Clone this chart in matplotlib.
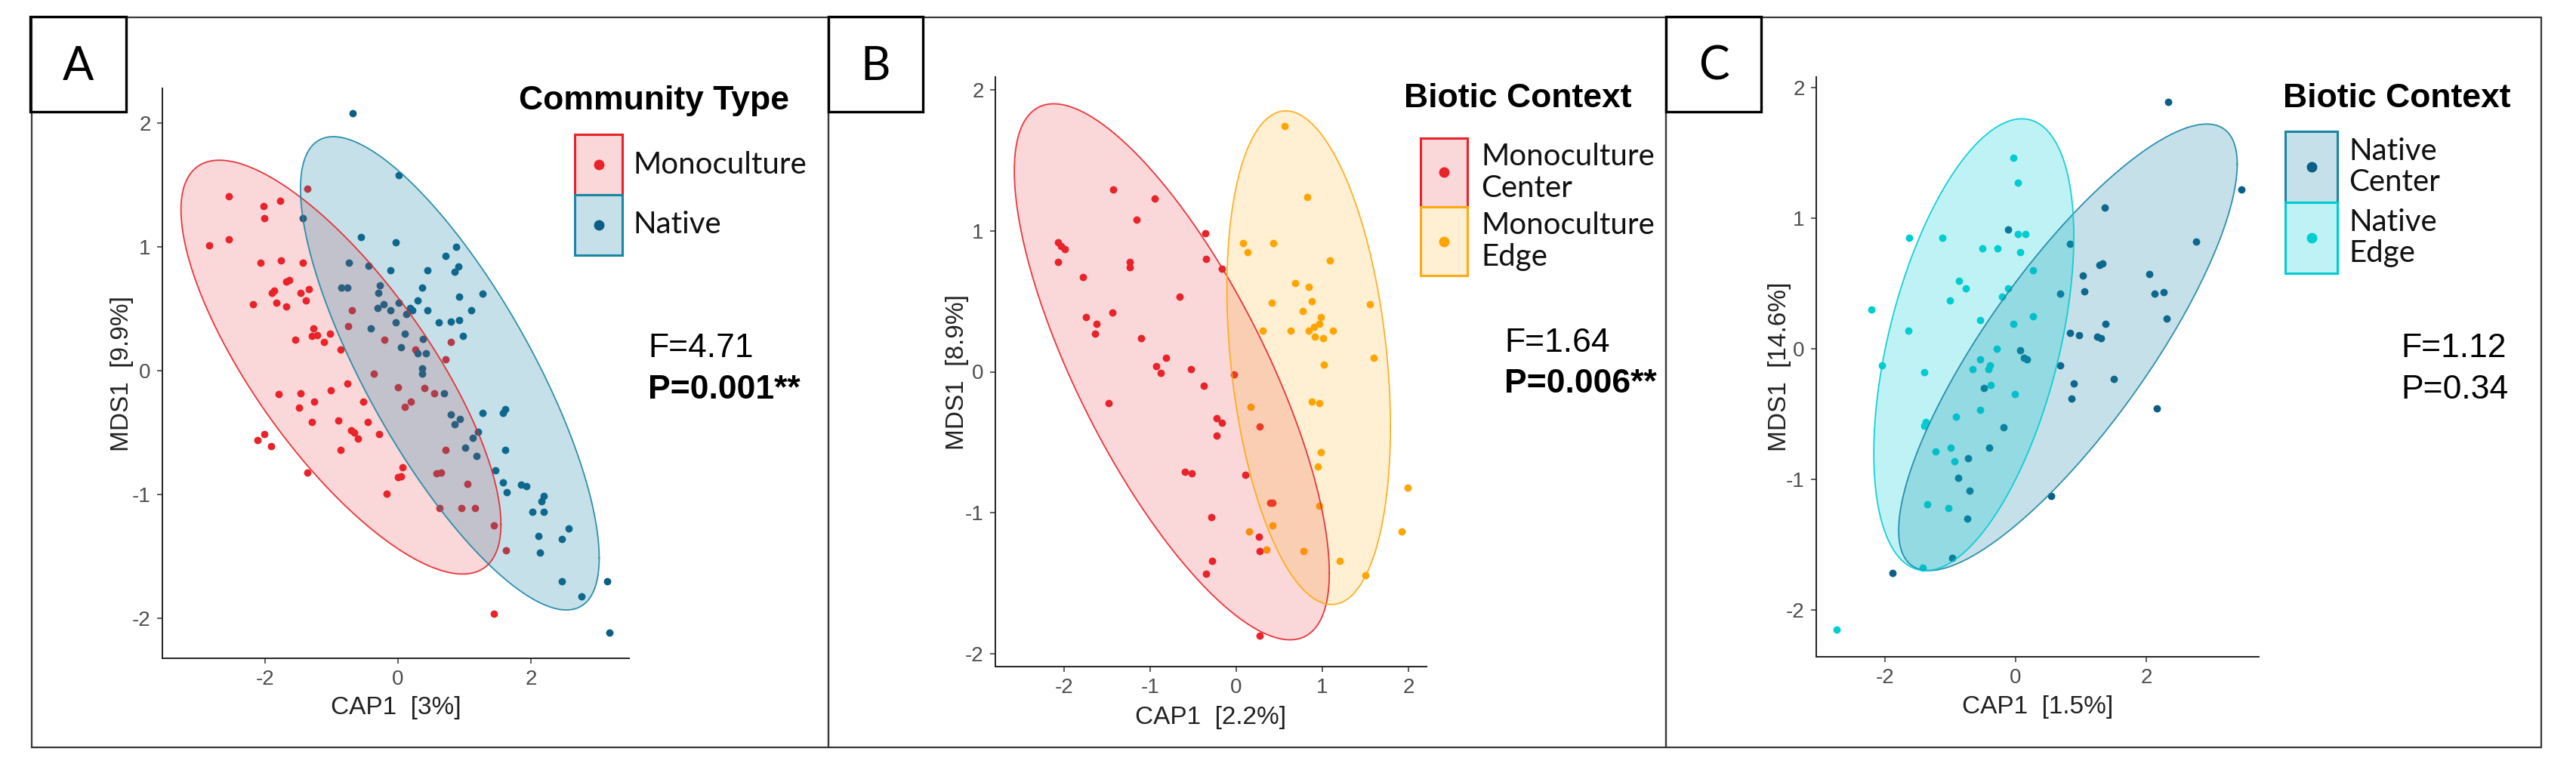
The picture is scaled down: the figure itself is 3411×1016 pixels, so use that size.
import numpy as np
import matplotlib
matplotlib.use('Agg')
import matplotlib.pyplot as plt
from matplotlib.patches import Rectangle
from matplotlib.lines import Line2D

plt.rcParams['font.family'] = ['Liberation Sans Narrow', 'Liberation Sans', 'DejaVu Sans']
plt.rcParams['axes.unicode_minus'] = False

# panel A: community type
a_groups = ['Monoculture', 'Native']
a_mono_x = [-1.37, -2.55, -2.03, -1.78, -2.01, -2.85, -2.55, -2.07, -1.76, -1.43, -1.68, -1.64, -1.87, -1.90,
            -1.47, -1.34, -1.83, -1.68, -1.39, -2.19, -0.69, -0.75, -1.27, -1.30, -1.22, -1.03, -1.12, -0.87,
            -1.55, -0.21, 0.26, 0.80, 0.72, -0.37, -0.76, -1.01, -1.47, -1.80, -1.26, -1.49, -0.52, 0.0, 0.40,
            0.19, 0.10, 0.54, -1.30, -0.90, -0.46, -0.71, -0.66, -0.60, -0.29, -2.12, -2.01, -1.91, -0.86, 0.72,
            -1.37, 0.07, 0.0, 0.04, 0.58, 0.65, 1.04, -0.17, 0.62, 0.95, 1.16, 1.44, 1.63, 1.44]
a_mono_y = [1.47, 1.41, 1.33, 1.37, 1.23, 1.01, 1.06, 0.87, 0.89, 0.87, 0.72, 0.73, 0.65, 0.63, 0.63, 0.66,
            0.55, 0.52, 0.57, 0.54, 0.49, 0.36, 0.34, 0.28, 0.29, 0.30, 0.23, 0.17, 0.25, 0.25, 0.17, 0.23, 0.09,
            -0.02, -0.10, -0.16, -0.18, -0.19, -0.25, -0.30, -0.25, -0.13, -0.14, -0.25, -0.29, -0.18, -0.41,
            -0.40, -0.41, -0.48, -0.50, -0.55, -0.51, -0.56, -0.51, -0.61, -0.64, -0.64, -0.82, -0.78, -0.86,
            -0.85, -0.83, -0.82, -0.91, -0.99, -1.11, -1.11, -1.11, -1.25, -1.45, -1.96]
a_nat_x = [-0.68, 0.01, -1.43, -0.56, -0.04, 0.87, 0.72, -0.74, -0.44, -0.12, 0.44, 0.91, 0.85, -0.85, -0.76,
           -0.27, -0.30, 0.36, 1.27, 0.92, 0.01, 0.29, 0.18, -0.31, -0.22, -0.12, 0.12, 0.22, 0.44, 1.10, 0.61,
           0.80, 0.92, -0.41, -0.04, 0.10, 0.98, 0.38, 0.04, 0.29, 0.42, 0.36, 0.36, 0.69, 0.79, 0.85, 0.93, 1.27,
           1.58, 1.62, 1.20, 1.13, 1.01, 1.18, 1.62, 1.47, 1.58, 1.64, 1.85, 1.93, 2.20, 2.16, 2.02, 2.20, 2.12,
           2.57, 2.47, 2.14, 2.47, 2.76, 3.15, 3.18]
a_nat_y = [2.08, 1.58, 1.23, 1.08, 1.04, 1.00, 0.93, 0.87, 0.85, 0.81, 0.81, 0.84, 0.80, 0.67, 0.67, 0.69,
           0.63, 0.67, 0.62, 0.60, 0.55, 0.57, 0.51, 0.51, 0.54, 0.49, 0.46, 0.49, 0.49, 0.49, 0.39, 0.40, 0.41,
           0.34, 0.39, 0.30, 0.28, 0.26, 0.19, 0.14, 0.14, 0.02, -0.02, -0.18, -0.35, -0.43, -0.39, -0.34, -0.34,
           -0.31, -0.49, -0.54, -0.62, -0.69, -0.64, -0.80, -0.90, -0.98, -0.92, -0.93, -1.01, -1.05, -1.14,
           -1.14, -1.33, -1.27, -1.36, -1.47, -1.70, -1.82, -1.70, -2.11]
# ellipse: centre x, centre y, half width, half height, correlation
a_ellipses = [(-0.86, 0.03, 2.41, 1.67, -0.76), (0.78, -0.02, 2.25, 1.91, -0.78)]

# panel B: monoculture center / edge
b_groups = ['Monoculture\nCenter', 'Monoculture\nEdge']
b_cen_x = [-1.43, -0.95, -1.16, -0.36, -2.07, -2.04, -1.99, -2.07, -1.24, -1.24, -0.35, -0.17, -1.78, -0.66,
           -1.75, -1.44, -1.62, -1.64, -1.11, -0.82, -0.93, -0.88, -0.53, -0.38, -0.03, -1.48, -0.23, -0.17,
           -0.23, 0.27, -0.60, -0.52, 0.10, 0.39, 0.42, -0.29, 0.26, 0.27, -0.28, -0.35, 0.27]
b_cen_y = [1.29, 1.23, 1.08, 0.98, 0.92, 0.89, 0.87, 0.78, 0.78, 0.74, 0.80, 0.73, 0.67, 0.53, 0.39, 0.42,
           0.34, 0.27, 0.24, 0.10, 0.04, -0.01, 0.02, -0.10, -0.02, -0.22, -0.33, -0.36, -0.45, -0.39, -0.71,
           -0.72, -0.73, -0.93, -0.93, -1.03, -1.17, -1.27, -1.34, -1.43, -1.87]
b_edge_x = [0.56, 0.82, 0.08, 0.13, 0.43, 1.09, 0.68, 0.84, 0.88, 0.41, 0.77, 1.55, 0.98, 0.96, 0.90, 0.84,
            0.31, 0.63, 1.12, 0.91, 1.01, 1.02, 1.60, 0.88, 0.96, 0.17, 0.98, 0.95, 1.99, 0.96, 0.42, 0.15, 1.92,
            0.35, 0.78, 1.20, 1.50]
b_edge_y = [1.74, 1.24, 0.91, 0.85, 0.91, 0.79, 0.63, 0.60, 0.50, 0.49, 0.43, 0.48, 0.39, 0.34, 0.32, 0.29,
            0.29, 0.29, 0.29, 0.25, 0.24, 0.05, 0.10, -0.21, -0.22, -0.25, -0.57, -0.67, -0.82, -0.95, -1.09,
            -1.13, -1.13, -1.26, -1.27, -1.34, -1.44]
b_ellipses = [(-0.75, 0.0, 1.83, 1.90, -0.75), (0.84, 0.10, 0.95, 1.75, -0.28)]

# panel C: native center / edge
c_groups = ['Native\nCenter', 'Native\nEdge']
c_cen_x = [2.33, 3.45, 1.36, 2.76, -0.11, 0.83, 1.28, 1.33, 1.03, 2.04, 0.68, 1.05, 2.12, 2.26, 2.31, 1.38,
           0.83, 0.97, 1.25, 1.30, 0.07, 0.13, 0.17, 0.68, 1.50, 0.89, 0.86, -0.48, 2.16, -0.19, -0.40, -0.73,
           -0.88, -0.70, 0.54, -0.74, -0.97, -1.88]
c_cen_y = [1.89, 1.22, 1.08, 0.82, 0.91, 0.80, 0.64, 0.65, 0.56, 0.57, 0.42, 0.44, 0.42, 0.43, 0.23, 0.19,
           0.12, 0.10, 0.09, 0.08, -0.01, -0.07, -0.08, -0.13, -0.23, -0.27, -0.38, -0.30, -0.46, -0.60, -0.76,
           -0.84, -0.99, -1.09, -1.13, -1.30, -1.60, -1.72]
c_edge_x = [-0.03, 0.03, -1.63, -1.12, 0.04, 0.15, -0.51, -0.28, 0.07, 0.27, -0.87, -0.76, -1.00, -0.21, -0.11,
            -2.21, -0.54, -0.03, 0.27, -1.64, -0.29, -2.05, -0.54, -0.66, -0.42, -0.39, -1.40, -0.38, -0.01,
            -0.54, -0.91, -1.37, -1.40, -1.22, -0.99, -0.94, -1.35, -1.03, -1.42, -2.74]
c_edge_y = [1.46, 1.27, 0.85, 0.85, 0.88, 0.88, 0.77, 0.77, 0.74, 0.60, 0.52, 0.46, 0.37, 0.40, 0.46, 0.30,
            0.22, 0.19, 0.25, 0.14, 0.00, -0.13, -0.08, -0.16, -0.16, -0.13, -0.18, -0.28, -0.35, -0.47, -0.52,
            -0.56, -0.59, -0.79, -0.76, -0.86, -1.19, -1.22, -1.68, -2.15]
c_ellipses = [(0.80, 0.01, 2.59, 1.71, 0.82), (-0.64, 0.03, 1.53, 1.73, 0.48)]

stats = [('F=4.71', 'P=0.001**', True), ('F=1.64', 'P=0.006**', True), ('F=1.12', 'P=0.34', False)]
xlabels = ['CAP1  [3%]', 'CAP1  [2.2%]', 'CAP1  [1.5%]']
ylabels = ['MDS1  [9.9%]', 'MDS1  [8.9%]', 'MDS1  [14.6%]']

# (point colour, ellipse colour, fill alpha)
RED = ('#E8232A', '#E8232A', 0.18)
NAVY = ('#0B5E85', '#1A86A6', 0.25)
ORANGE = ('#FFA500', '#FFAA10', 0.18)
CYAN = ('#00CED1', '#00CCD4', 0.25)

W, H = 3411, 1016
fig = plt.figure(figsize=(W / 100, H / 100), dpi=100)


def fx(x):
    return x / W


def fy(y):
    return 1 - y / H


def add_axes(left, top, right, bottom):
    return fig.add_axes([fx(left), fy(bottom), fx(right - left), (bottom - top) / H])


def draw_ellipse(ax, e, col):
    cx, cy, hx, hy, rho = e
    t = np.linspace(0, 2 * np.pi, 300)
    ex = cx + hx * np.cos(t)
    ey = cy + hy * (rho * np.cos(t) + np.sqrt(1 - rho ** 2) * np.sin(t))
    ax.fill(ex, ey, color=col[1], alpha=col[2], lw=0, zorder=3)
    ax.plot(ex, ey, color=col[1], lw=1.3, alpha=0.9, zorder=4)


def style_axes(ax, xlim, ylim, xticks, xlabel, ylabel, lx, ly):
    ax.set_xlim(xlim)
    ax.set_ylim(ylim)
    ax.set_xticks(xticks)
    ax.set_yticks([-2, -1, 0, 1, 2])
    for s in ['top', 'right']:
        ax.spines[s].set_visible(False)
    for s in ['left', 'bottom']:
        ax.spines[s].set_linewidth(1.4)
        ax.spines[s].set_color('#222222')
    ax.tick_params(length=5, width=1.2, color='#444444', labelcolor='#4D4D4D', labelsize=20, pad=6)
    ax.set_xlabel(xlabel, fontsize=24, color='#222222')
    ax.set_ylabel(ylabel, fontsize=24, color='#222222')
    ax.xaxis.set_label_coords(0.5, lx)
    ax.yaxis.set_label_coords(ly, 0.5)
    ax.xaxis.label.set_va('center')
    ax.yaxis.label.set_va('center')


def draw_panel(ax, xs, ys, ellipses, cols):
    for x, y, c in zip(xs, ys, cols):
        ax.scatter(x, y, s=50, color=c[0], lw=0, zorder=2)
    for e, c in zip(ellipses, cols):
        draw_ellipse(ax, e, c)


def draw_legend(title, labels, cols, title_x, title_y, kx, ky, kw, kh, tx):
    fig.text(fx(title_x), fy(title_y), title, fontsize=32, fontweight='bold',
             family=['Liberation Sans', 'DejaVu Sans'], va='center', ha='left')
    for i, (lab, c) in enumerate(zip(labels, cols)):
        top = ky + i * kh
        fig.add_artist(Rectangle((fx(kx), fy(top + kh)), kw / W, kh / H, transform=fig.transFigure,
                                 facecolor=matplotlib.colors.to_rgba(c[1], c[2]), edgecolor=c[1], lw=2.2))
        fig.add_artist(Line2D([fx(kx + kw / 2)], [fy(top + kh / 2)], marker='o', markersize=9,
                              color=c[0], transform=fig.transFigure))
        fig.text(fx(tx), fy(top + kh / 2), lab, fontsize=29, family=['Lato', 'DejaVu Sans'],
                 va='center', ha='left', linespacing=1.15, color='#111111')


def draw_stats(i, x, y1, y2):
    f, p, bold = stats[i]
    fig.text(fx(x), fy(y1), f, fontsize=32, family=['Liberation Sans', 'DejaVu Sans'], va='center')
    fig.text(fx(x), fy(y2), p, fontsize=32, family=['Liberation Sans', 'DejaVu Sans'], va='center',
             fontweight='bold' if bold else 'normal')


# frames round the three panels
for left, right in [(42, 1097), (1097, 2206), (2206, 3365)]:
    fig.add_artist(Rectangle((fx(left), fy(990)), (right - left) / W, (990 - 23) / H,
                             transform=fig.transFigure, fill=False, edgecolor='#3A3A3A', lw=1.6))
for letter, left, right in [('A', 40, 167), ('B', 1097, 1222), ('C', 2206, 2332)]:
    fig.add_artist(Rectangle((fx(left), fy(148)), (right - left) / W, (148 - 22) / H,
                             transform=fig.transFigure, fill=False, edgecolor='black', lw=2.4))
    fig.text(fx((left + right) / 2), fy(88), letter, fontsize=44, ha='center', va='center',
             family=['Lato', 'DejaVu Sans'])

ax_a = add_axes(215, 117, 833, 872)
draw_panel(ax_a, [a_mono_x, a_nat_x], [a_mono_y, a_nat_y], a_ellipses, [RED, NAVY])
style_axes(ax_a, (-3.55, 3.48), (-2.32, 2.28), [-2, 0, 2], xlabels[0], ylabels[0], -0.087, -0.087)

ax_b = add_axes(1318, 102, 1889, 883)
draw_panel(ax_b, [b_cen_x, b_edge_x], [b_cen_y, b_edge_y], b_ellipses, [RED, ORANGE])
style_axes(ax_b, (-2.80, 2.21), (-2.09, 2.09), [-2, -1, 0, 1, 2], xlabels[1], ylabels[1], -0.087, -0.089)

ax_c = add_axes(2405, 102, 2991, 870)
draw_panel(ax_c, [c_cen_x, c_edge_x], [c_cen_y, c_edge_y], c_ellipses, [NAVY, CYAN])
style_axes(ax_c, (-3.05, 3.72), (-2.36, 2.08), [-2, 0, 2], xlabels[2], ylabels[2], -0.086, -0.082)

draw_legend('Community Type', a_groups, [RED, NAVY], 687, 133, 761, 178, 63, 80, 838)
draw_legend('Biotic Context', b_groups, [RED, ORANGE], 1859, 130, 1881, 183, 62, 91, 1961)
draw_legend('Biotic Context', c_groups, [NAVY, CYAN], 3023, 130, 3026, 174, 69, 94, 3110)

draw_stats(0, 858, 461, 517)
draw_stats(1, 1992, 454, 509)
draw_stats(2, 3179, 461, 517)

fig.savefig('out.png', dpi=100, facecolor='white')
